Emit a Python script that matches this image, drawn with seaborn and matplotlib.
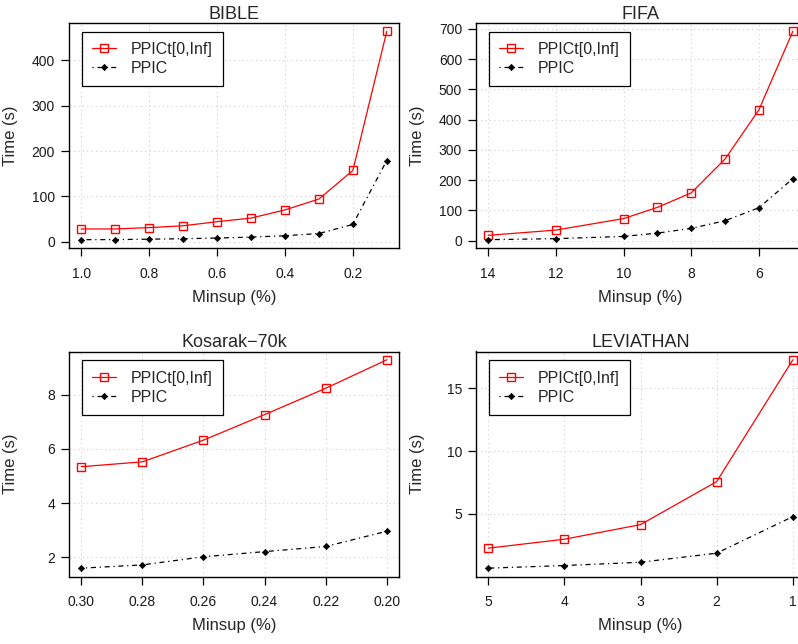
import numpy as np
import pandas as pd
import matplotlib
matplotlib.use("Agg")
import matplotlib.pyplot as plt
from matplotlib.ticker import FormatStrFormatter
import seaborn as sns

# values
bible_x = [1.0, 0.9, 0.8, 0.7, 0.6, 0.5, 0.4, 0.3, 0.2, 0.1]
bible_ppict = [28, 28, 31, 35, 44, 52, 70, 94, 157, 464]
bible_ppic = [4.4, 4.5, 5.5, 6.5, 8, 10, 13, 18, 38, 179]

fifa_x = [14, 12, 10, 9, 8, 7, 6, 5]
fifa_ppict = [17.6, 35, 73, 110, 158, 270, 433, 692]
fifa_ppic = [3.3, 6.6, 14, 25, 40.6, 66, 109, 205]

kos_x = [0.30, 0.28, 0.26, 0.24, 0.22, 0.20]
kos_ppict = [5.34, 5.52, 6.32, 7.26, 8.23, 9.28]
kos_ppic = [1.60, 1.72, 2.02, 2.21, 2.40, 2.96]

lev_x = [5, 4, 3, 2, 1]
lev_ppict = [2.28, 2.99, 4.15, 7.57, 17.25]
lev_ppic = [0.69, 0.90, 1.16, 1.88, 4.79]

titles = ["BIBLE", "FIFA", "Kosarak\u221270k", "LEVIATHAN"]
xticks = [[1.0, 0.8, 0.6, 0.4, 0.2], [14, 12, 10, 8, 6],
          [0.30, 0.28, 0.26, 0.24, 0.22, 0.20], [5, 4, 3, 2, 1]]
yticks = [[0, 100, 200, 300, 400], [0, 100, 200, 300, 400, 500, 600, 700],
          [2, 4, 6, 8], [5, 10, 15]]
xfmt = ["%.1f", "%d", "%.2f", "%d"]
series = [(bible_x, bible_ppict, bible_ppic), (fifa_x, fifa_ppict, fifa_ppic),
          (kos_x, kos_ppict, kos_ppic), (lev_x, lev_ppict, lev_ppic)]

sns.set_theme(style="ticks")
plt.rcParams['font.family'] = ['Liberation Sans', 'DejaVu Sans']

W, H = 798, 644
fig = plt.figure(figsize=(W / 100, H / 100), dpi=100)

# axes boxes in pixels: left, top, right, bottom
boxes = [(69, 23, 399, 248), (476, 23, 805, 248),
         (69, 351.5, 399, 576.5), (476, 351.5, 805, 576.5)]


def r_lim(vals):
    lo, hi = min(vals), max(vals)
    pad = 0.04 * (hi - lo)
    return lo - pad, hi + pad


for i, (x, ppict, ppic) in enumerate(series):
    l, t, r, b = boxes[i]
    ax = fig.add_axes([l / W, 1 - b / H, (r - l) / W, (b - t) / H])
    df = pd.DataFrame({"minsup": x, "PPICt[0,Inf]": ppict, "PPIC": ppic})

    sns.lineplot(data=df, x="minsup", y="PPICt[0,Inf]", ax=ax, color="red",
                 lw=0.9, marker="s", ms=5.5, mfc="none", mec="red", mew=1.0,
                 label="PPICt[0,Inf]")
    sns.lineplot(data=df, x="minsup", y="PPIC", ax=ax, color="black",
                 lw=0.9, linestyle=(0, (1, 3, 4, 3)), marker="D", ms=3.2,
                 mfc="black", mec="black", mew=0.5, label="PPIC")

    x0, x1 = r_lim(x)
    ax.set_xlim(x1, x0)
    ax.set_ylim(*r_lim(list(ppict) + list(ppic)))
    ax.set_xticks(xticks[i])
    ax.set_yticks(yticks[i])
    ax.xaxis.set_major_formatter(FormatStrFormatter(xfmt[i]))

    ax.grid(True, color="#cfcfcf", linestyle=(0, (1, 3)), linewidth=0.8)
    for sp in ax.spines.values():
        sp.set_visible(True)
        sp.set_color("black")
        sp.set_linewidth(1.0)
    ax.tick_params(axis="both", direction="out", length=6, width=0.9,
                   color="black", labelsize=10, labelcolor="#1a1a1a")
    ax.tick_params(axis="x", pad=7.5)
    ax.tick_params(axis="y", pad=4)

    ax.set_title(titles[i], fontsize=13, pad=3)
    ax.set_xlabel("Minsup (%)", fontsize=12)
    ax.set_ylabel("Time (s)", fontsize=12)
    ax.xaxis.set_label_coords(0.5, -0.185)
    ax.yaxis.set_label_coords(-0.155, 0.5)

    leg = ax.legend(loc="upper left", bbox_to_anchor=(12.7 / (r - l), 1 - 8.7 / (b - t)),
                    borderaxespad=0, fontsize=11.5, frameon=True, fancybox=False,
                    framealpha=1, edgecolor="black", borderpad=0.65,
                    handlelength=1.5, handletextpad=0.9, labelspacing=0.25)
    leg.get_frame().set_linewidth(0.9)

fig.savefig("out.png", dpi=100)
